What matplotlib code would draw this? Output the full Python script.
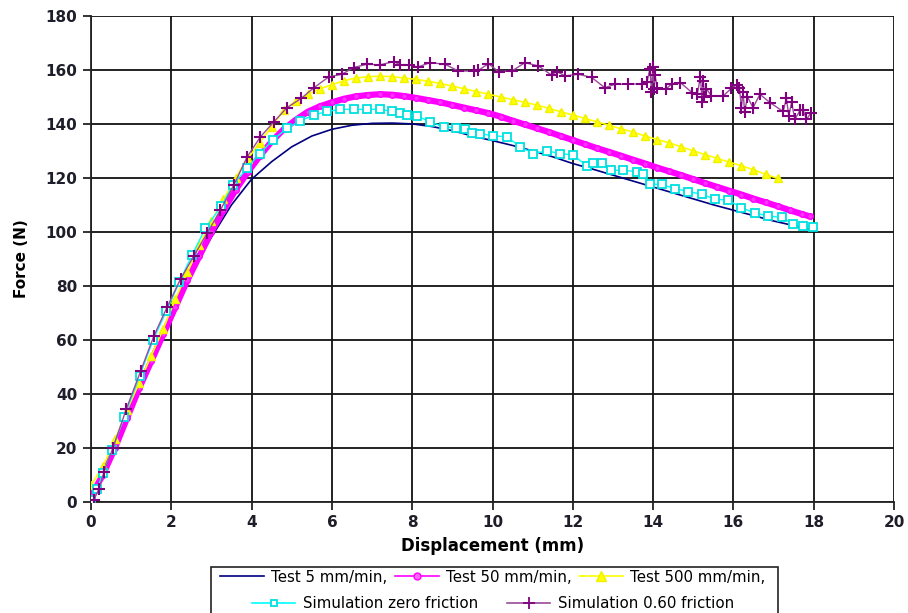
import matplotlib
matplotlib.use("Agg")
import matplotlib.pyplot as plt
from matplotlib.patches import Rectangle
from matplotlib.lines import Line2D

plt.rcParams['font.family'] = ['DejaVu Sans']

# Test 5 mm/min
t5_x = [0, 0.5, 1, 1.5, 2, 2.5, 3, 3.5, 4, 4.5, 5, 5.5, 6, 6.5, 7, 7.5, 8, 8.5, 9,
        9.5, 10, 10.5, 11, 11.5, 12, 12.5, 13, 13.5, 14, 14.5, 15, 15.5, 16, 16.5,
        17, 17.5, 18]
t5_y = [0, 16, 35, 53, 70, 85, 98, 110, 119.5, 126, 131.5, 135.5, 138, 139.5, 140.2,
        140.3, 140, 139, 137.5, 135.5, 133.8, 132, 130, 127.8, 125.3, 123.2, 121,
        118.8, 116.6, 114.4, 112.2, 110, 108, 106, 104, 102.3, 100.6]

# Test 50 mm/min
t50_x = [0, 0.3, 0.6, 0.9, 1.2, 1.5, 1.8, 2.1, 2.4, 2.7, 3.0, 3.3, 3.6, 3.9, 4.2, 4.5,
         4.8, 5.1, 5.4, 5.7, 6.0, 6.3, 6.6, 6.9, 7.2, 7.5, 7.8, 8.1, 8.4, 8.7, 9.0,
         9.3, 9.6, 9.9, 10.2, 10.5, 10.8, 11.1, 11.4, 11.7, 12.0, 12.3, 12.6, 12.9,
         13.2, 13.5, 13.8, 14.1, 14.4, 14.7, 15.0, 15.3, 15.6, 15.9, 16.2, 16.5,
         16.8, 17.1, 17.4, 17.7, 17.9]
t50_y = [2, 10, 20, 31, 42, 52, 62, 72, 82, 91, 100, 108, 115.5, 122, 128, 133.5,
         138, 141.5, 144.5, 146.5, 148, 149.3, 150.2, 150.7, 151, 150.8, 150.3, 149.6,
         148.8, 148, 147, 146, 145, 144, 142.7, 141.2, 139.8, 138.4, 137, 135.5, 134,
         132.5, 131, 129.6, 128.2, 126.7, 125.3, 123.8, 122.4, 121, 119.5, 118, 116.6,
         115.2, 113.8, 112.3, 110.9, 109.5, 108, 106.6, 105.7]

# Test 500 mm/min
t500_x = [0, 0.3, 0.6, 0.9, 1.2, 1.5, 1.8, 2.1, 2.4, 2.7, 3.0, 3.3, 3.6, 3.9, 4.2,
          4.5, 4.8, 5.1, 5.4, 5.7, 6.0, 6.3, 6.6, 6.9, 7.2, 7.5, 7.8, 8.1, 8.4, 8.7,
          9.0, 9.3, 9.6, 9.9, 10.2, 10.5, 10.8, 11.1, 11.4, 11.7, 12.0, 12.3, 12.6,
          12.9, 13.2, 13.5, 13.8, 14.1, 14.4, 14.7, 15.0, 15.3, 15.6, 15.9, 16.2,
          16.5, 16.8, 17.1]
t500_y = [6, 13, 23, 34, 44, 54, 64, 75, 85, 95, 104, 112, 120, 127, 133, 139, 145,
          148.5, 151, 153, 154.5, 156, 157, 157.5, 157.7, 157.5, 157, 156.5, 155.8,
          155, 154, 153, 152, 151, 150, 149, 148, 147, 145.8, 144.5, 143.3, 142,
          140.8, 139.5, 138.2, 137, 135.5, 134.2, 133, 131.5, 130, 128.6, 127.2,
          125.8, 124.5, 123, 121.3, 119.8]

# Simulation zero friction
sz_x = [0, 0.15, 0.3, 0.52, 0.83, 1.21, 1.55, 1.88, 2.2, 2.52, 2.85, 3.25, 3.53, 3.89,
        4.2, 4.54, 4.88, 5.21, 5.55, 5.88, 6.21, 6.54, 6.87, 7.2, 7.5, 7.7, 7.87, 8.12,
        8.45, 8.78, 9.1, 9.32, 9.49, 9.69, 10.02, 10.36, 10.69, 11.02, 11.35, 11.68,
        12.01, 12.35, 12.51, 12.72, 12.95, 13.26, 13.59, 13.76, 13.92, 14.21, 14.54,
        14.88, 15.21, 15.54, 15.87, 16.2, 16.53, 16.87, 17.21, 17.49, 17.74, 17.99]
sz_y = [0.7, 4.7, 10.4, 19, 31.4, 46.5, 60, 70.7, 81.3, 91.5, 101.3, 109.6, 117.4,
        123.6, 129, 134.2, 138.3, 141.1, 143.3, 144.6, 145.4, 145.4, 145.4, 145.4,
        144.6, 144, 143.3, 142.9, 140.8, 138.9, 138.6, 138, 136.7, 136.4, 135.6,
        135.2, 131.5, 129, 130, 129, 128.5, 124.4, 125.4, 125.4, 122.8, 122.8, 122.3,
        121.4, 117.6, 117.6, 116, 114.9, 113.9, 112.1, 111.7, 109, 106.9, 105.9,
        105.3, 102.8, 102.2, 101.9]

# Simulation 0.60 friction
sf_x = [0.07, 0.2, 0.32, 0.55, 0.88, 1.24, 1.57, 1.9, 2.23, 2.56, 2.89, 3.22, 3.56,
        3.89, 4.22, 4.55, 4.88, 5.24, 5.55, 5.92, 6.25, 6.54, 6.87, 7.2, 7.54, 7.7,
        7.91, 8.14, 8.45, 8.82, 9.15, 9.53, 9.65, 9.9, 10.15, 10.48, 10.81, 11.14,
        11.47, 11.6, 11.81, 12.14, 12.47, 12.8, 13.05, 13.38, 13.72, 13.85, 13.92,
        13.96, 13.99, 14.02, 14.05, 14.1, 14.31, 14.47, 14.68, 14.97, 15.1, 15.18,
        15.22, 15.25, 15.28, 15.33, 15.45, 15.75, 15.95, 16.08, 16.15, 16.2, 16.24,
        16.28, 16.35, 16.49, 16.66, 16.91, 17.24, 17.32, 17.38, 17.45, 17.53, 17.66,
        17.74, 17.82, 17.94]
sf_y = [0.6, 4.7, 10.8, 20, 34.3, 48.5, 61.5, 72.2, 82.5, 91, 99.4, 108, 117.4,
        127.8, 135.2, 140.7, 146, 149.5, 153.4, 157.4, 158.4, 160.9, 162.1, 161.9,
        163.1, 161.9, 161.9, 161.1, 162.7, 162.1, 159.6, 159.6, 159.9, 162.3, 159.4,
        159.6, 162.7, 161.5, 158.1, 159.4, 157.8, 158.4, 157.2, 153.4, 154.7, 154.7,
        154.9, 155.5, 160.5, 152, 161, 153, 158, 153.4, 152.8, 154.9, 155.3, 151.6,
        151, 157.5, 148, 156, 150, 153, 150.4, 150.4, 153.2, 154.5, 153.4, 146, 152,
        144.5, 150, 146, 151, 147.9, 144.6, 149.5, 143, 148, 141.7, 145, 145, 141.7,
        144.2]

W, H = 908, 613
fig = plt.figure(figsize=(W / 100, H / 100), dpi=100)
ax = fig.add_axes([91 / W, 1 - 501.5 / H, (894 - 91) / W, (501.5 - 16) / H])

ax.plot(t5_x, t5_y, color='#000080', lw=1.2, zorder=3)
ax.plot(t50_x, t50_y, color='#ff00ff', lw=4.5, marker='o', ms=4,
        mfc='#ff33ff', mec='#ff00ff', zorder=4)
ax.plot(t500_x, t500_y, color='#ffff00', lw=1.2, marker='^', ms=6.2,
        mfc='#ffff00', mec='#f0f000', zorder=5)
ax.plot(sz_x, sz_y, color='#00ffff', lw=1.0, marker='s', ms=5.5,
        mfc='white', mec='#00e0e0', mew=1.3, zorder=6)
ax.plot(sf_x, sf_y, color='#9a4a9a', lw=1.0, marker='+', ms=8,
        mec='#800080', mew=1.5, zorder=7)

ax.set_xlim(0, 20)
ax.set_ylim(0, 180)
ax.set_xticks(range(0, 21, 2))
ax.set_yticks(range(0, 181, 20))
ax.grid(True, color='#111111', lw=1.3)
ax.set_axisbelow(True)
for s in ax.spines.values():
    s.set_color('#222222')
    s.set_linewidth(1.3)
ax.spines['top'].set_visible(False)
ax.spines['right'].set_visible(False)
ax.tick_params(direction='out', length=6, width=1.3, color='#222222',
               labelsize=11, pad=4)
for lab in ax.get_xticklabels() + ax.get_yticklabels():
    lab.set_fontweight('bold')
    lab.set_color('#1e1e2a')
ax.set_xlabel('Displacement (mm)', fontsize=12, fontweight='bold', labelpad=5)
ax.set_ylabel('Force (N)', fontsize=11, fontweight='bold', labelpad=12)

# legend proxies (legend symbols are thin lines with one marker)
h1 = Line2D([], [], color='#000080', lw=1.2, label='Test 5 mm/min,')
h2 = Line2D([], [], color='#ff00ff', lw=1.2, marker='o', ms=5, mfc='#ff66ff',
            mec='#ff00ff', label='Test 50 mm/min,')
h3 = Line2D([], [], color='#ffff00', lw=1.2, marker='^', ms=6.5, mfc='#ffff00',
            mec='#f0f000', label='Test 500 mm/min,')
h4 = Line2D([], [], color='#00ffff', lw=1.2, marker='s', ms=5, mfc='white',
            mec='#00e0e0', mew=1.3, label='Simulation zero friction')
h5 = Line2D([], [], color='#9a4a9a', lw=1.2, marker='+', ms=9, mec='#800080',
            mew=1.3, label='Simulation 0.60 friction')

fig.patches.append(Rectangle((211 / W, -0.05), (778 - 211) / W,
                             (0.05 + 1 - 567 / H), transform=fig.transFigure,
                             fill=False, edgecolor='#222222', lw=1.2))
fig.legend(handles=[h1, h2, h3], loc='center', ncol=3,
           bbox_to_anchor=(493 / W, 1 - 577 / H), frameon=False,
           fontsize=10.8, handlelength=2.9, columnspacing=0.5,
           handletextpad=0.5, borderpad=0)
fig.legend(handles=[h4, h5], loc='center', ncol=2,
           bbox_to_anchor=(493 / W, 1 - 603.5 / H), frameon=False,
           fontsize=10.8, handlelength=2.9, columnspacing=1.9,
           handletextpad=0.5, borderpad=0)

fig.savefig('out.png', dpi=100)
